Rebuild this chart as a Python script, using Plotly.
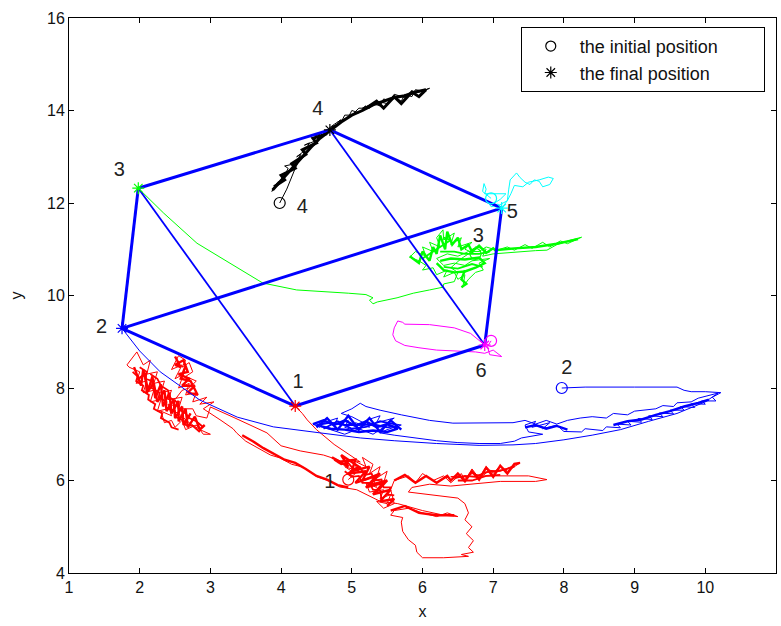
import plotly.graph_objects as go

# ---------------- data ----------------
vert_x = [4.20, 1.75, 1.98, 4.69, 7.12, 6.88]
vert_y = [7.61, 9.29, 12.32, 13.58, 11.89, 8.93]
thick_edges = [(1, 2), (2, 3), (3, 4), (4, 5), (5, 6), (6, 1), (2, 5)]
thin_edges = [(3, 1), (4, 6)]

init_x = [4.95, 7.97, 6.75, 3.98, 6.97, 6.97]
init_y = [6.02, 8.00, 10.90, 12.00, 12.10, 9.02]
robot_colors = ["#ff0000", "#0000ff", "#00ff00", "#000000", "#00ffff", "#ff00ff"]

label_text = ["1", "2", "3", "4", "5", "6", "1", "2", "3", "4"]
label_x = [4.24, 1.46, 1.71, 4.52, 7.27, 6.83, 4.69, 8.04, 6.79, 4.30]
label_y = [8.10, 9.30, 12.69, 14.02, 11.78, 8.35, 5.94, 8.42, 11.26, 11.89]

legend_names = ["the initial position", "the final position"]

red_path = [
    (4.95, 6.02), (5.05, 6.15), (4.9, 6.3), (5.1, 6.2), (5.0, 6.45), (5.2, 6.3), (5.15, 6.5), (5.3, 6.35),
    (5.25, 6.15), (5.4, 6.3), (5.35, 6.05), (5.5, 6.2), (5.45, 5.95), (5.3, 6.05), (5.35, 5.85), (5.2, 5.95),
    (5.25, 5.75), (5.45, 5.8), (5.4, 5.6), (5.55, 5.7), (5.5, 5.5), (5.35, 5.55), (5.45, 5.4), (5.6, 5.5),
    (5.55, 5.8), (5.6, 6.0), (5.8, 6.1), (5.9, 5.95), (6.0, 6.15), (6.15, 6.0), (6.3, 6.1), (6.4, 5.95),
    (6.55, 6.15), (6.6, 6.0), (6.7, 6.25), (6.8, 6.05), (6.9, 6.3), (7.0, 6.15), (7.1, 6.32), (7.2, 6.2),
    (7.38, 6.38), (7.25, 6.3), (7.1, 6.2), (6.95, 6.22), (6.85, 6.1), (6.7, 6.15), (6.6, 6.05), (6.5, 6.1),
    (6.4, 6.08), (7.0, 6.1), (7.5, 6.1), (7.76, 6.02), (7.6, 5.98), (7.1, 5.98), (6.65, 5.92), (6.4, 5.88),
    (6.1, 5.92), (5.85, 5.85), (5.8, 5.75), (6.1, 5.7), (6.5, 5.62), (6.6, 5.5), (6.65, 5.3), (6.6, 5.15),
    (6.7, 5.0), (6.62, 4.85), (6.72, 4.7), (6.65, 4.55), (6.72, 4.45), (6.55, 4.4), (6.65, 4.36), (6.3, 4.33),
    (6.0, 4.33), (5.92, 4.45), (5.9, 4.6), (5.8, 4.72), (5.72, 4.9), (5.7, 5.1), (5.72, 5.2), (5.55, 5.25),
    (5.6, 5.35), (5.8, 5.4), (6.0, 5.3), (6.2, 5.22), (6.35, 5.3), (6.5, 5.22), (6.3, 5.25), (6.0, 5.35),
    (5.65, 5.5), (5.4, 5.55), (5.2, 5.7), (5.07, 5.8), (4.83, 5.86), (4.7, 5.98), (4.51, 6.08), (4.4, 6.2),
    (4.31, 6.29), (4.15, 6.35), (3.98, 6.49), (3.85, 6.55), (3.7, 6.68), (3.6, 6.75), (3.5, 6.85), (3.37, 7.03),
    (3.32, 7.12), (3.15, 7.3), (3.0, 7.45), (2.9, 7.55), (3.05, 7.7), (2.85, 7.65), (2.95, 7.8), (2.75, 7.7),
    (2.8, 7.9), (2.65, 7.85), (2.7, 8.1), (2.55, 8.0), (2.62, 8.3), (2.5, 8.2), (2.6, 8.5), (2.45, 8.4),
    (2.55, 8.7), (2.65, 8.6), (2.6, 8.45), (2.7, 8.55), (2.75, 8.35), (2.65, 8.25), (2.8, 8.15), (2.7, 8.0),
    (2.6, 7.95), (2.5, 7.75), (2.55, 7.6), (2.4, 7.65), (2.45, 7.4), (2.3, 7.5), (2.35, 7.25), (2.45, 7.3),
    (2.5, 7.15), (2.6, 7.3), (2.65, 7.1), (2.8, 7.2), (2.9, 7.0), (3.0, 7.0), (2.85, 7.1), (2.7, 7.25),
    (2.55, 7.45), (2.4, 7.55), (2.25, 7.5), (2.3, 7.75), (2.15, 7.7), (2.2, 7.95), (2.05, 7.9), (2.1, 8.15),
    (1.95, 8.1), (2.0, 8.35), (1.85, 8.45), (1.82, 8.5), (1.96, 8.78), (2.05, 8.5), (2.15, 8.6), (2.1, 8.3),
    (2.25, 8.35), (2.2, 8.1), (2.35, 8.15), (2.3, 7.9), (2.45, 7.95), (2.4, 7.75), (2.6, 7.8), (2.55, 7.55),
    (2.75, 7.55), (2.8, 7.4), (2.95, 7.35), (3.0, 7.59), (3.32, 7.37), (3.55, 7.2), (3.8, 7.03), (4.0, 6.75),
    (4.27, 6.64), (4.6, 6.55), (4.8, 6.45), (4.9, 6.35), (5.0, 6.45), (5.12, 6.4), (5.0, 6.52), (4.75, 6.78),
    (4.5, 7.1), (4.37, 7.31), (4.3, 7.45), (4.20, 7.61),
]

# over-plotted (dense) parts of each track, drawn heavier
red_dense = [
    (1.92, 8.45), (2.02, 8.05), (2.05, 8.4), (2.12, 7.95), (2.18, 8.25), (2.22, 7.78), (2.3, 8.08), (2.33, 7.6),
    (2.42, 7.9), (2.45, 7.45), (2.55, 7.72), (2.55, 7.28), (2.65, 7.55), (2.68, 7.15), (2.78, 7.38), (2.85, 7.1),
    (2.92, 7.2), None,
    (1.98, 8.2), (2.08, 8.3), (2.1, 7.9), (2.2, 8.1), (2.25, 7.7), (2.35, 7.95), (2.38, 7.5), (2.48, 7.75),
    (2.5, 7.35), (2.6, 7.6), (2.62, 7.2), (2.72, 7.45), None,
    (2.5, 8.68), (2.58, 8.45), (2.5, 8.5), (2.62, 8.6), (2.68, 8.35), (2.55, 8.3), (2.7, 8.2), (2.6, 8.05),
    (2.78, 8.05), (2.68, 7.9), (2.82, 7.85), (2.72, 8.15), (2.58, 8.2), (2.65, 8.48), None,
    (3.45, 6.98), (3.6, 6.85), (3.75, 6.7), (3.9, 6.58), (4.05, 6.45), (4.2, 6.38), (4.35, 6.25), (4.5, 6.1),
    (4.65, 6.02), (4.8, 5.9), (4.95, 5.85), None,
    (4.72, 6.5), (4.95, 6.3), (4.85, 6.55), (5.1, 6.3), (4.95, 6.15), (5.2, 6.2), (5.05, 5.95), (5.35, 6.1),
    (5.2, 5.85), (5.45, 5.95), (5.3, 5.7), (5.55, 5.8), (5.4, 5.55), (5.6, 5.6), (5.5, 5.45), None,
    (4.8, 6.4), (5.05, 6.45), (5.0, 6.2), (5.25, 6.3), (5.15, 6.0), (5.4, 6.15), (5.25, 5.9), (5.5, 6.0),
    (5.35, 5.75), None,
    (5.6, 6.0), (5.75, 6.12), (5.9, 5.95), (6.05, 6.1), (6.2, 5.95), (6.35, 6.1), (6.4, 6.0), (6.5, 6.15),
    (6.6, 5.98), (6.7, 6.2), (6.8, 6.02), (6.9, 6.28), (7.0, 6.08), (7.1, 6.32), (7.2, 6.15), (7.3, 6.36),
    (7.38, 6.38), None,
    (5.55, 5.35), (5.75, 5.45), (5.95, 5.3), (6.2, 5.25), (6.45, 5.25),
]

red_fill = [
    (1.9, 8.35), (1.97, 8.25), (1.95, 8.15), (2.05, 8.05), (2.03, 7.95), (2.13, 7.85), (2.12, 7.75), (2.22, 7.65),
    (2.2, 7.55), (2.32, 7.45), (2.3, 7.35), (2.42, 7.25), (2.45, 7.15), (2.55, 7.1), None,
    (2.0, 8.45), (2.1, 8.35), (2.08, 8.2), (2.18, 8.15), (2.17, 8.0), (2.28, 7.9), (2.27, 7.8), (2.38, 7.7),
    (2.37, 7.58), (2.5, 7.5), (2.5, 7.38), (2.62, 7.3), (2.65, 7.2), (2.75, 7.18), (2.85, 7.05), None,
    (2.15, 8.3), (2.25, 8.2), (2.3, 8.05), (2.4, 7.95), (2.42, 7.8), (2.52, 7.7), (2.55, 7.55), (2.65, 7.45),
    (2.7, 7.35), (2.8, 7.28), (2.9, 7.15), None,
    (4.75, 6.45), (4.85, 6.35), (4.95, 6.38), (5.02, 6.25), (5.12, 6.28), (5.18, 6.12), (5.28, 6.15), (5.32, 6.0),
    (5.42, 6.02), (5.45, 5.85), (5.55, 5.85), (5.5, 5.7), (5.6, 5.68), None,
    (4.9, 6.2), (5.0, 6.08), (5.1, 6.1), (5.15, 5.95), (5.25, 5.95), (5.3, 5.8), (5.4, 5.78), (5.42, 5.62), None,
    (6.45, 6.05), (6.6, 6.1), (6.75, 6.08), (6.9, 6.18), (7.05, 6.2), (7.2, 6.25), (7.3, 6.3), None,
    (6.5, 6.0), (6.7, 6.0), (6.9, 6.1), (7.1, 6.12),
]

blue_path = [
    (7.97, 8.0), (8.3, 8.02), (9.0, 8.02), (9.6, 8.02), (9.7, 7.95), (9.8, 7.92), (10.0, 7.92), (10.22, 7.9),
    (10.1, 7.8), (10.15, 7.72), (9.95, 7.72), (10.0, 7.65), (9.8, 7.66), (9.85, 7.58), (9.65, 7.6), (9.7, 7.52),
    (9.5, 7.52), (9.55, 7.44), (9.35, 7.46), (9.4, 7.38), (9.2, 7.4), (9.25, 7.32), (9.05, 7.34), (9.1, 7.26),
    (8.9, 7.28), (8.95, 7.2), (8.75, 7.22), (8.8, 7.14), (8.6, 7.16), (8.55, 7.08), (8.3, 7.12), (8.25, 7.05),
    (8.0, 7.06), (7.9, 7.2), (7.7, 7.12), (7.8, 7.25), (7.55, 7.15), (7.6, 7.28), (7.45, 7.2), (7.5, 7.05),
    (7.7, 7.0), (7.4, 6.92), (7.3, 6.85), (7.1, 6.8), (6.8, 6.8), (6.5, 6.82), (6.2, 6.86), (5.87, 6.92),
    (5.6, 6.98), (5.4, 7.03), (5.5, 7.1), (5.7, 7.2), (5.5, 7.25), (5.6, 7.35), (5.35, 7.25), (5.4, 7.4),
    (5.2, 7.3), (5.25, 7.15), (5.05, 7.25), (5.1, 7.05), (4.9, 7.15), (4.95, 7.3), (4.75, 7.2), (4.8, 7.35),
    (4.6, 7.25), (4.55, 7.15), (4.45, 7.22), (4.7, 7.1), (4.9, 7.0), (5.1, 7.12), (5.3, 7.0), (5.45, 7.15),
    (5.2, 7.22), (5.0, 7.38), (4.85, 7.45), (5.0, 7.55), (5.12, 7.67), (5.2, 7.6), (5.4, 7.52), (5.7, 7.42),
    (6.1, 7.3), (6.43, 7.24), (6.9, 7.24), (7.28, 7.25), (7.45, 7.3), (7.6, 7.22), (7.75, 7.3), (7.9, 7.22),
    (8.05, 7.3), (8.23, 7.35), (8.4, 7.38), (8.6, 7.35), (8.7, 7.45), (8.9, 7.42), (9.0, 7.5), (9.17, 7.52),
    (9.3, 7.55), (9.4, 7.62), (9.55, 7.6), (9.6, 7.68), (9.8, 7.7), (9.9, 7.78), (10.1, 7.85), (10.18, 7.89),
    (10.0, 7.7), (9.6, 7.45), (9.2, 7.28), (8.8, 7.1), (8.4, 6.98), (8.0, 6.88), (7.6, 6.8), (7.28, 6.77),
    (6.8, 6.76), (6.2, 6.8), (5.6, 6.86), (5.12, 6.92), (4.55, 7.03), (3.89, 7.16), (3.38, 7.37), (2.85, 7.74),
    (2.29, 8.35), (2.0, 8.8), (1.75, 9.29),
]

blue_dense = [
    (4.45, 7.22), (4.6, 7.3), (4.75, 7.2), (4.9, 7.3), (5.05, 7.18), (5.2, 7.28), (5.35, 7.15), (5.5, 7.22),
    (5.65, 7.12), (5.5, 7.05), (5.3, 7.08), (5.1, 7.05), (4.9, 7.1), (4.7, 7.12), (4.55, 7.18), None,
    (4.5, 7.15), (4.65, 7.35), (4.8, 7.1), (4.95, 7.4), (5.1, 7.1), (5.25, 7.35), (5.4, 7.05), (5.55, 7.3),
    (5.7, 7.1), None,
    (7.45, 7.15), (7.6, 7.2), (7.75, 7.12), (7.9, 7.18), (8.05, 7.1), None,
    (8.7, 7.2), (8.9, 7.28), (9.1, 7.32), (9.3, 7.42), (9.5, 7.5), (9.7, 7.6), (9.9, 7.68), (10.05, 7.75),
]

blue_fill = [
    (4.5, 7.2), (4.7, 7.25), (4.9, 7.2), (5.1, 7.2), (5.3, 7.22), (5.5, 7.15), (5.65, 7.18), None,
    (4.6, 7.12), (4.8, 7.28), (5.0, 7.12), (5.2, 7.16), (5.4, 7.28), (5.6, 7.22),
]

green_path = [
    (6.75, 10.9), (6.6, 11.0), (6.7, 11.15), (6.5, 11.05), (6.55, 11.25), (6.4, 11.1), (6.45, 11.35), (6.3, 11.2),
    (6.29, 11.42), (6.2, 11.25), (6.25, 11.05), (6.1, 11.15), (6.15, 10.95), (6.0, 11.05), (6.05, 10.85), (5.9, 10.95),
    (5.82, 10.83), (5.95, 10.75), (6.05, 10.65), (6.0, 10.55), (6.15, 10.6), (6.2, 10.45), (6.35, 10.55), (6.3, 10.4),
    (6.45, 10.5), (6.5, 10.35), (6.6, 10.45), (6.57, 10.18), (6.65, 10.35), (6.75, 10.5), (6.86, 10.55), (6.8, 10.7),
    (6.95, 10.8), (6.7, 10.75), (6.6, 10.65), (6.45, 10.7), (6.3, 10.65), (6.2, 10.8), (6.35, 10.9), (6.5, 10.85),
    (6.65, 10.95), (6.8, 10.95), (6.9, 11.05), (7.05, 10.98), (7.2, 11.05), (7.3, 10.98), (7.45, 11.1), (7.55, 11.02),
    (7.7, 11.15), (7.8, 11.05), (7.95, 11.18), (8.05, 11.12), (8.25, 11.26), (8.1, 11.2), (7.9, 11.1), (7.76, 10.98),
    (7.6, 10.97), (7.4, 10.95), (7.2, 10.92), (7.0, 10.9), (6.85, 10.85), (6.9, 11.0), (6.75, 11.05), (6.65, 10.9),
    (6.55, 10.8), (6.4, 10.6), (6.5, 10.5), (6.45, 10.3), (6.3, 10.25), (6.29, 10.18), (6.1, 10.12), (5.87, 10.05),
    (5.64, 9.95), (5.45, 9.9), (5.36, 9.86), (5.3, 9.82), (5.25, 9.9), (5.3, 9.95), (5.2, 10.02), (4.95, 10.05),
    (4.69, 10.08), (4.22, 10.12), (3.74, 10.27), (3.28, 10.7), (2.81, 11.13), (2.34, 11.78), (1.98, 12.32),
]

green_dense = [
    (5.82, 10.85), (5.95, 10.7), (6.0, 10.95), (6.1, 10.75), (6.15, 11.05), (6.2, 10.9), (6.25, 11.3), (6.32, 11.0),
    (6.35, 11.38), (6.42, 11.1), (6.5, 11.25), (6.55, 11.0), (6.65, 11.1), (6.7, 10.95), (6.8, 11.08), (6.9, 10.92),
    (7.0, 11.02), (7.05, 10.95), None,
    (6.2, 10.7), (6.3, 10.55), (6.45, 10.5), (6.6, 10.52), (6.75, 10.6), (6.88, 10.7), (6.8, 10.82), (6.6, 10.78),
    (6.4, 10.8), (6.25, 10.75), None,
    (6.6, 10.55), (6.55, 10.35), (6.62, 10.25), (6.55, 10.18), None,
    (7.05, 10.98), (7.3, 11.02), (7.6, 11.05), (7.9, 11.12), (8.2, 11.22),
]

green_fill = [
    (6.0, 10.8), (6.1, 10.9), (6.2, 11.0), (6.3, 11.1), (6.4, 11.2), (6.3, 11.25), None,
    (6.25, 10.95), (6.45, 10.95), (6.6, 10.9), (6.8, 10.9), (6.95, 10.95), None,
    (6.3, 10.62), (6.5, 10.58), (6.7, 10.68), (6.85, 10.62),
]

black_path = [
    (3.98, 12.0), (4.08, 12.3), (4.2, 12.75), (4.25, 12.9), (4.15, 12.7), (4.05, 12.65), (3.98, 12.45), (3.9, 12.35),
    (3.87, 12.25), (3.95, 12.45), (4.02, 12.5), (4.1, 12.75), (4.05, 12.8), (4.2, 12.85), (4.28, 13.05), (4.22, 13.0),
    (4.35, 13.15), (4.4, 13.3), (4.33, 13.25), (4.5, 13.35), (4.55, 13.5), (4.48, 13.45), (4.62, 13.55), (4.75, 13.7),
    (4.85, 13.8), (4.8, 13.75), (4.95, 13.85), (5.0, 14.0), (5.1, 13.95), (5.2, 14.1), (5.15, 14.05), (5.3, 14.15),
    (5.4, 14.1), (5.45, 14.25), (5.55, 14.2), (5.6, 14.3), (5.7, 14.2), (5.75, 14.35), (5.85, 14.3), (5.9, 14.45),
    (6.0, 14.42), (6.1, 14.48), (5.95, 14.4), (5.85, 14.42), (5.75, 14.28), (5.6, 14.35), (5.5, 14.15), (5.35, 14.2),
    (5.25, 14.05), (5.1, 14.05), (5.0, 13.9), (4.9, 13.9), (4.85, 13.75), (4.72, 13.65), (4.6, 13.5), (4.69, 13.58),
]

black_dense = [
    (3.88, 12.28), (3.98, 12.45), (4.08, 12.62), (4.18, 12.8), (4.3, 13.0), (4.42, 13.2), (4.55, 13.4), (4.7, 13.58),
    (4.85, 13.75), (5.0, 13.9), (5.15, 14.0), (5.3, 14.12), (5.45, 14.2), (5.6, 14.28), (5.75, 14.32), (5.9, 14.4),
    (6.05, 14.45), None,
    (3.9, 12.35), (4.05, 12.5), (4.0, 12.6), (4.2, 12.75), (4.15, 12.85), (4.35, 13.05), (4.3, 13.15), (4.5, 13.3),
    (4.45, 13.4), (4.65, 13.5), None,
    (5.2, 14.05), (5.35, 14.2), (5.45, 14.05), (5.6, 14.3), (5.7, 14.15), (5.85, 14.4), (5.95, 14.3), (6.05, 14.45),
]

cyan_path = [
    (6.97, 12.1), (6.9, 12.2), (6.85, 12.25), (6.87, 12.42), (6.9, 12.3), (6.88, 12.2), (7.0, 12.2), (7.18, 12.2),
    (7.1, 12.08), (7.0, 11.98), (6.93, 12.02), (6.97, 11.92), (7.08, 11.95), (7.2, 12.05), (7.22, 12.3), (7.24, 12.5),
    (7.33, 12.65), (7.38, 12.55), (7.45, 12.45), (7.52, 12.4), (7.58, 12.5), (7.65, 12.47), (7.7, 12.35), (7.8, 12.4),
    (7.85, 12.53), (7.78, 12.56), (7.65, 12.5), (7.5, 12.45), (7.42, 12.35), (7.3, 12.38), (7.25, 12.2), (7.2, 12.05),
    (7.12, 11.89),
]

magenta_path = [
    (6.97, 9.02), (6.92, 8.9), (6.95, 8.72), (7.12, 8.68), (7.0, 8.82), (6.88, 8.75), (6.75, 8.78), (6.45, 8.8),
    (6.2, 8.82), (5.95, 8.87), (5.75, 8.92), (5.62, 9.02), (5.58, 9.15), (5.6, 9.3), (5.65, 9.45), (5.72, 9.42),
    (5.75, 9.38), (6.1, 9.37), (6.3, 9.33), (6.45, 9.3), (6.68, 9.18), (6.82, 9.0), (6.88, 8.93),
]

paths = [red_path, blue_path, green_path, black_path, cyan_path, magenta_path]
dense = [(red_dense, "#ff0000", 2.4), (blue_dense, "#0000ff", 2.4),
         (green_dense, "#00ff00", 2.4), (black_dense, "#000000", 3.0),
         (red_fill, "#ff0000", 1.8), (blue_fill, "#0000ff", 1.8), (green_fill, "#00ff00", 1.8)]

FONT = "Liberation Sans, Arial, sans-serif"


def split(pts):
    return ([p[0] if p else None for p in pts], [p[1] if p else None for p in pts])


# ---------------- figure ----------------
fig = go.Figure()

for pts, col, w in dense:
    xs, ys = split(pts)
    fig.add_trace(go.Scatter(x=xs, y=ys, mode="lines", line=dict(color=col, width=w),
                             showlegend=False, hoverinfo="skip"))

for path, col in zip(paths, robot_colors):
    xs, ys = split(path)
    fig.add_trace(go.Scatter(x=xs, y=ys, mode="lines", line=dict(color=col, width=1),
                             showlegend=False, hoverinfo="skip"))


def edge_xy(edges):
    xs, ys = [], []
    for a, b in edges:
        xs += [vert_x[a - 1], vert_x[b - 1], None]
        ys += [vert_y[a - 1], vert_y[b - 1], None]
    return xs, ys


ex, ey = edge_xy(thin_edges)
fig.add_trace(go.Scatter(x=ex, y=ey, mode="lines", line=dict(color="#0000ff", width=1.8),
                         showlegend=False, hoverinfo="skip"))
ex, ey = edge_xy(thick_edges)
fig.add_trace(go.Scatter(x=ex, y=ey, mode="lines", line=dict(color="#0000ff", width=3),
                         showlegend=False, hoverinfo="skip"))

fig.add_trace(go.Scatter(x=vert_x, y=vert_y, mode="markers",
                         marker=dict(symbol="asterisk-open", size=10, color=robot_colors,
                                     line=dict(color=robot_colors, width=1.2)),
                         showlegend=False, hoverinfo="skip"))
fig.add_trace(go.Scatter(x=init_x, y=init_y, mode="markers",
                         marker=dict(symbol="circle-open", size=11, color=robot_colors,
                                     line=dict(color=robot_colors, width=1.2)),
                         showlegend=False, hoverinfo="skip"))

fig.add_trace(go.Scatter(x=label_x, y=label_y, mode="text", text=label_text,
                         textfont=dict(family=FONT, size=20, color="#222222"),
                         showlegend=False, hoverinfo="skip"))

# legend entries
pad = "\u00a0" * 8
fig.add_trace(go.Scatter(x=[None], y=[None], mode="markers", name=legend_names[0] + pad,
                         marker=dict(symbol="circle-open", size=10, color="black",
                                     line=dict(color="black", width=1.2))))
fig.add_trace(go.Scatter(x=[None], y=[None], mode="markers", name=legend_names[1],
                         marker=dict(symbol="asterisk-open", size=10, color="black",
                                     line=dict(color="black", width=1.2))))

axis_common = dict(showline=True, linecolor="black", linewidth=1, mirror="ticks",
                   ticks="inside", ticklen=5, tickcolor="black", showgrid=False,
                   zeroline=False, tickfont=dict(family=FONT, size=16, color="#111111"))

fig.update_layout(
    width=781, height=626,
    margin=dict(l=69, r=5, t=18, b=53),
    paper_bgcolor="white", plot_bgcolor="white",
    xaxis=dict(range=[1, 11], dtick=1, title=dict(text="x", standoff=10,
               font=dict(family=FONT, size=16, color="#111111")), **axis_common),
    yaxis=dict(range=[4, 16], dtick=2, title=dict(text="y", standoff=20,
               font=dict(family=FONT, size=16, color="#111111")), **axis_common),
    legend=dict(x=0.639, y=0.984, xanchor="left", yanchor="top",
                bgcolor="white", bordercolor="black", borderwidth=1,
                font=dict(family=FONT, size=18, color="#111111"),
                itemwidth=48, tracegroupgap=0),
    showlegend=True,
)

fig.write_html("out.html")
